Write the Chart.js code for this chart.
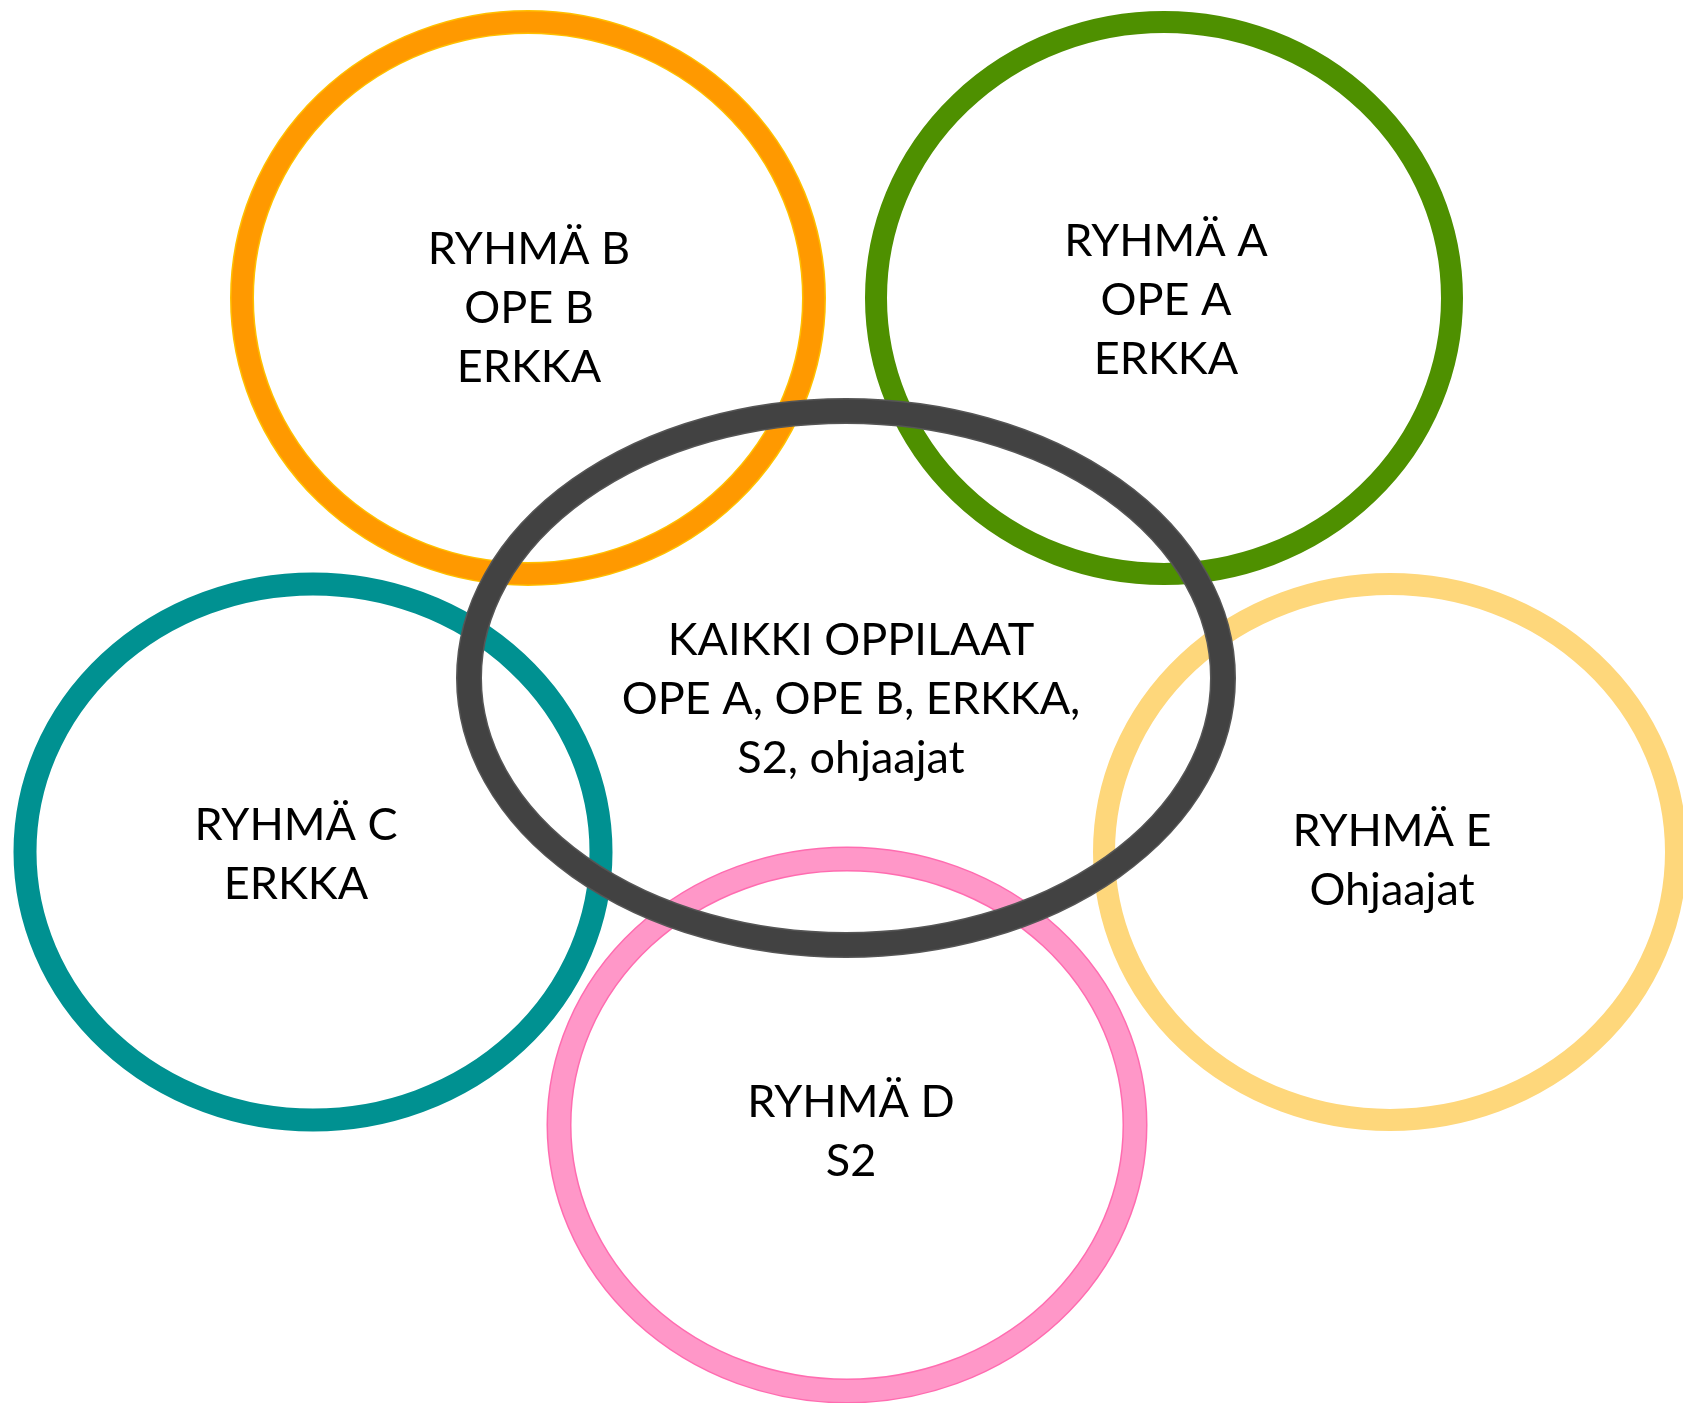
<!DOCTYPE html>
<html lang="fi">
<head>
<meta charset="utf-8">
<title>Ryhmät</title>
<script src="https://cdn.jsdelivr.net/npm/chart.js@4/dist/chart.umd.min.js"></script>
<style>
  html, body { margin: 0; padding: 0; background: #fff; }
  #wrap { width: 1683px; height: 1403px; }
</style>
</head>
<body>
<div id="wrap"><canvas id="kaavio" width="1683" height="1403"></canvas></div>
<script>
// renkaiden tekstit, keskimmäinen viimeisenä jotta se piirtyy päällimmäiseksi
const tekstit = [
  ['RYHMÄ B', 'OPE B', 'ERKKA'],
  ['RYHMÄ A', 'OPE A', 'ERKKA'],
  ['RYHMÄ C', 'ERKKA'],
  ['RYHMÄ E', 'Ohjaajat'],
  ['RYHMÄ D', 'S2'],
  ['KAIKKI OPPILAAT', 'OPE A, OPE B, ERKKA,', 'S2, ohjaajat']
];

// keskipisteet ja säteet kuvan koordinaateissa
const keskiX = [528, 1164, 313, 1390, 847, 846];
const keskiY = [298, 298, 852, 852, 1125, 678];
const sadeX = [286, 288, 288, 286, 288, 377];
const sadeY = [276, 276, 268, 268, 266, 267];

// tekstien ankkurit
const tekstiX = [529, 1166, 296, 1392, 851, 851];
const tekstiY = [307, 299, 853, 859, 1130, 698];

// värit ja viivat
const tyylit = [
  { vari: '#ff9900', reuna: '#ffc000', leveys: 22 },
  { vari: '#4e9000', reuna: null, leveys: 22 },
  { vari: '#009191', reuna: null, leveys: 23 },
  { vari: '#fed77b', reuna: null, leveys: 22 },
  { vari: '#ff97c8', reuna: '#ff6cb0', leveys: 23 },
  { vari: '#424242', reuna: '#565656', leveys: 24 }
];

const FONTTI = '45px Lato';
const RIVIVALI = 59;

// piirtää ellipsit ja tekstit skaalojen kautta
const renkaat = {
  id: 'renkaat',
  afterDatasetsDraw(chart) {
    const { ctx, scales: { x, y } } = chart;
    ctx.save();

    keskiX.forEach((cx, i) => {
      const px = x.getPixelForValue(cx);
      const py = y.getPixelForValue(keskiY[i]);
      const rx = Math.abs(x.getPixelForValue(cx + sadeX[i]) - px);
      const ry = Math.abs(y.getPixelForValue(keskiY[i] + sadeY[i]) - py);
      const t = tyylit[i];

      if (t.reuna) {
        ctx.beginPath();
        ctx.ellipse(px, py, rx, ry, 0, 0, Math.PI * 2);
        ctx.strokeStyle = t.reuna;
        ctx.lineWidth = t.leveys + 2;
        ctx.stroke();
      }
      ctx.beginPath();
      ctx.ellipse(px, py, rx, ry, 0, 0, Math.PI * 2);
      ctx.strokeStyle = t.vari;
      ctx.lineWidth = t.reuna ? t.leveys - 1 : t.leveys;
      ctx.stroke();
    });

    ctx.fillStyle = '#000';
    ctx.font = FONTTI;
    ctx.textAlign = 'center';
    ctx.textBaseline = 'alphabetic';
    tekstit.forEach((rivit, i) => {
      const px = x.getPixelForValue(tekstiX[i]);
      const py = y.getPixelForValue(tekstiY[i]);
      rivit.forEach((rivi, k) => {
        const ry = py + (k - (rivit.length - 1) / 2) * RIVIVALI;
        ctx.fillText(rivi, px, ry + 16);
      });
    });

    ctx.restore();
  }
};

const ctx = document.getElementById('kaavio').getContext('2d');
new Chart(ctx, {
  type: 'scatter',
  data: {
    datasets: [{
      data: keskiX.map((v, i) => ({ x: v, y: keskiY[i] })),
      pointRadius: 0,
      pointHoverRadius: 0
    }]
  },
  options: {
    responsive: false,
    animation: false,
    devicePixelRatio: 1,
    layout: { padding: 0 },
    scales: {
      x: { type: 'linear', min: 0, max: 1683, display: false },
      y: { type: 'linear', min: 0, max: 1403, reverse: true, display: false }
    },
    plugins: {
      legend: { display: false },
      tooltip: { enabled: false }
    }
  },
  plugins: [renkaat]
});
</script>
</body>
</html>
